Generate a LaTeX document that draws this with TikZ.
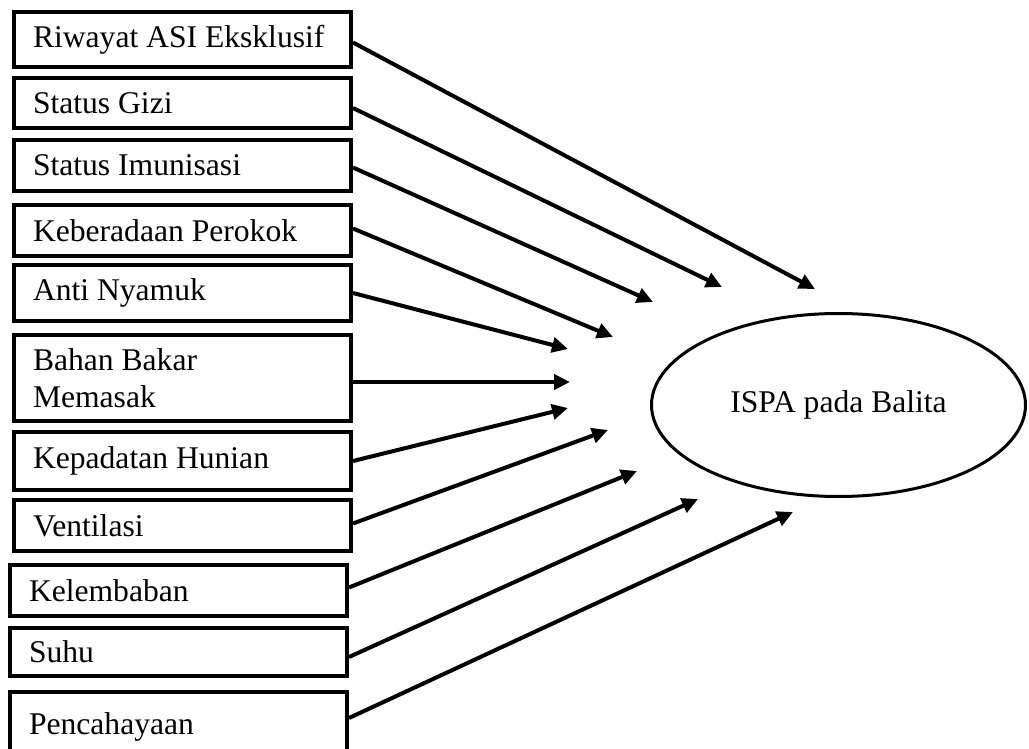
\documentclass[tikz,border=0pt]{standalone}
\usepackage{fontspec}
\setmainfont{Liberation Serif}
\usetikzlibrary{arrows.meta,shapes.geometric}

\begin{document}
\begin{tikzpicture}[x=0.5pt,y=-0.5pt,line width=2pt,
  box/.style={draw,rectangle,minimum width=168.5pt,text width=149.5pt,align=left,
    inner xsep=9.5pt,inner ysep=2pt,font=\fontsize{15.8}{18.5}\selectfont,
    execute at begin node=\spaceskip0pt\xspaceskip0pt\relax},
  arr/.style={-{Triangle[length=8pt,width=7.5pt]}}]
\useasboundingbox (0,0) rectangle (1029,749);

% faktor
\node[box,minimum height=27.5pt] (asi) at (182.5,39.5) {Riwayat ASI Eksklusif};
\node[box,minimum height=25pt] (gizi) at (182.5,103) {Status Gizi};
\node[box,minimum height=25.5pt] (imun) at (182.5,165.5) {Status Imunisasi};
\node[box,minimum height=25.5pt] (rokok) at (182.5,230.5) {Keberadaan Perokok};
\node[box,minimum height=28pt] (nyamuk) at (182.5,293) {Anti Nyamuk};
\node[box,minimum height=43pt] (bakar) at (182.5,378) {Bahan Bakar\\Memasak};
\node[box,minimum height=29pt] (hunian) at (182.5,461) {Kepadatan Hunian};
\node[box,minimum height=25.5pt] (venti) at (182.5,525.5) {Ventilasi};
\node[box,minimum height=25.5pt] (lembab) at (178.5,590.5) {Kelembaban};
\node[box,minimum height=24pt] (suhu) at (178.5,652) {Suhu};
\node[box,minimum height=35pt] (cahaya) at (178.5,727) {Pencahayaan};

% outcome
\node[draw,ellipse,line width=1.5pt,minimum width=187pt,minimum height=91.5pt,inner sep=0pt,
  font=\fontsize{15.8}{18.5}\selectfont] (ispa) at (838.5,405) {ISPA pada Balita};

% ujung panah
\coordinate (t1) at (815,289);
\coordinate (t2) at (722,287);
\coordinate (t3) at (653,302);
\coordinate (t4) at (613,337);
\coordinate (t5) at (568,349);
\coordinate (t6) at (570,382);
\coordinate (t7) at (568,408);
\coordinate (t8) at (608,430);
\coordinate (t9) at (637,471);
\coordinate (t10) at (698,499);
\coordinate (t11) at (793,512);

\draw[arr] ([yshift=-1.5pt]asi.east) -- (t1);
\draw[arr] ([yshift=-2.5pt]gizi.east) -- (t2);
\draw[arr] ([yshift=-1pt]imun.east) -- (t3);
\draw[arr] ([yshift=1pt]rokok.east) -- (t4);
\draw[arr] (nyamuk.east) -- (t5);
\draw[arr] ([yshift=-2pt]bakar.east) -- (t6);
\draw[arr] (hunian.east) -- (t7);
\draw[arr] ([yshift=1pt]venti.east) -- (t8);
\draw[arr] ([yshift=1.5pt]lembab.east) -- (t9);
\draw[arr] ([yshift=-2.5pt]suhu.east) -- (t10);
\draw[arr] ([yshift=4.5pt]cahaya.east) -- (t11);

\end{tikzpicture}
\end{document}
